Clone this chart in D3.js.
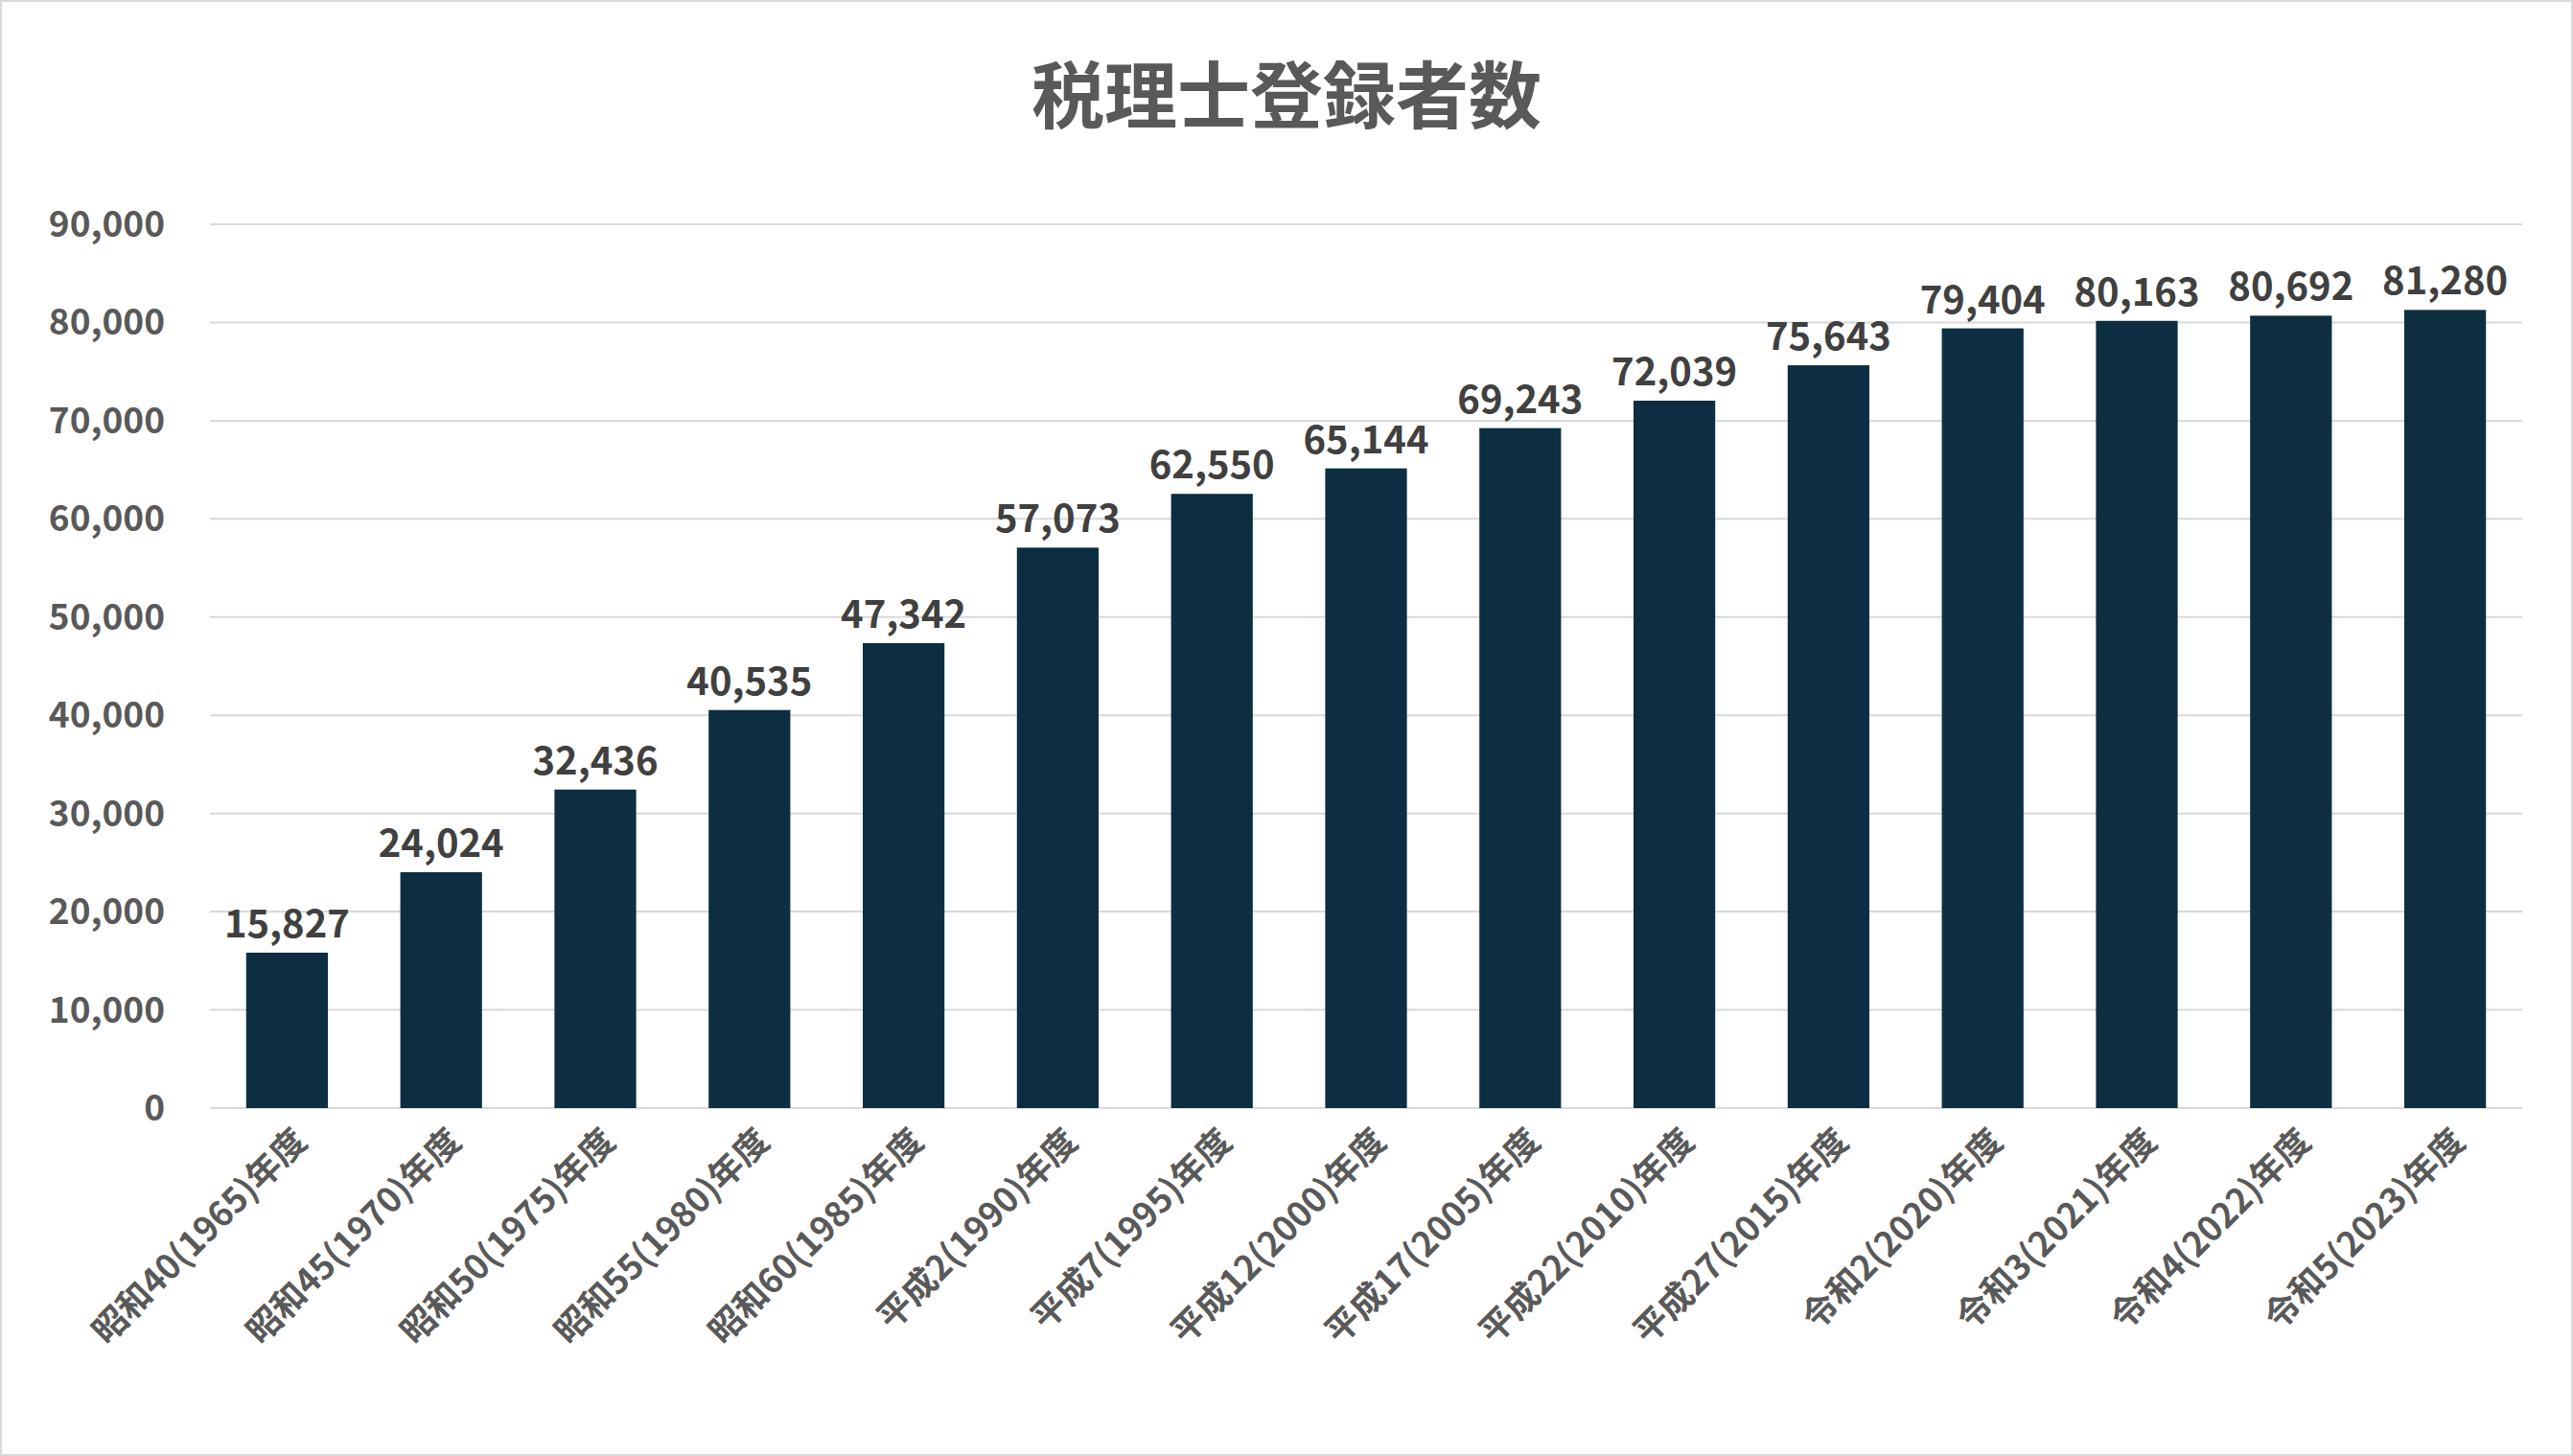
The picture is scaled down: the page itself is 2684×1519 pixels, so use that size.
<!DOCTYPE html>
<html><head><meta charset="utf-8">
<script src="https://cdn.jsdelivr.net/npm/d3@7"></script>
<style>body{margin:0;background:#fff}svg{display:block}</style>
</head><body>
<svg id="chart" width="2684" height="1519"></svg>
<script>
// data
const categories = ["昭和40(1965)年度","昭和45(1970)年度","昭和50(1975)年度","昭和55(1980)年度","昭和60(1985)年度","平成2(1990)年度","平成7(1995)年度","平成12(2000)年度","平成17(2005)年度","平成22(2010)年度","平成27(2015)年度","令和2(2020)年度","令和3(2021)年度","令和4(2022)年度","令和5(2023)年度"];
const values = [15827,24024,32436,40535,47342,57073,62550,65144,69243,72039,75643,79404,80163,80692,81280];
const yTicks = [0,10000,20000,30000,40000,50000,60000,70000,80000,90000];

const svg = d3.select("#chart");
const font = "'Noto Sans CJK JP','Noto Sans',sans-serif";
const m = {left: 219, right: 2631, top: 234, bottom: 1156};

svg.append("rect").attr("x", 1).attr("y", 1).attr("width", 2682).attr("height", 1517)
  .attr("fill", "#fff").attr("stroke", "#d9d9d9").attr("stroke-width", 2);

svg.append("text").attr("x", 1342).attr("y", 128).attr("text-anchor", "middle")
  .attr("font-family", font).attr("font-weight", "bold").attr("font-size", 76)
  .attr("fill", "#595959").text("税理士登録者数");

const x = d3.scaleBand().domain(categories).range([m.left, m.right]).paddingInner(0.47).paddingOuter(0.235);
const y = d3.scaleLinear().domain([0, 90000]).range([m.bottom, m.top]);

// gridlines
svg.append("g").selectAll("line").data(yTicks).join("line")
  .attr("x1", m.left).attr("x2", m.right)
  .attr("y1", d => y(d)).attr("y2", d => y(d))
  .attr("stroke", "#d9d9d9").attr("stroke-width", 2);

// y labels
svg.append("g").selectAll("text").data(yTicks).join("text")
  .attr("x", 172).attr("y", d => y(d)).attr("dy", "0.35em").attr("text-anchor", "end")
  .attr("font-family", font).attr("font-weight", "bold").attr("font-size", 37)
  .attr("fill", "#595959").text(d3.format(","));

// bars
svg.append("g").selectAll("rect").data(values).join("rect")
  .attr("x", (d, i) => x(categories[i])).attr("width", x.bandwidth())
  .attr("y", d => y(d)).attr("height", d => y(0) - y(d))
  .attr("fill", "#0c2e40");

// value labels
svg.append("g").selectAll("text").data(values).join("text")
  .attr("x", (d, i) => x(categories[i]) + x.bandwidth() / 2).attr("y", d => y(d) - 16)
  .attr("text-anchor", "middle")
  .attr("font-family", font).attr("font-weight", "bold").attr("font-size", 40)
  .attr("fill", "#404040").text(d3.format(","));

// x labels
svg.append("g").selectAll("text").data(categories).join("text")
  .attr("transform", d => `translate(${x(d) + x.bandwidth() / 2 + 14},${m.bottom + 28}) rotate(-45)`)
  .attr("text-anchor", "end").attr("dy", "0.35em")
  .attr("font-family", font).attr("font-weight", "bold").attr("font-size", 36)
  .attr("fill", "#595959").text(d => d);
</script>
</body></html>
